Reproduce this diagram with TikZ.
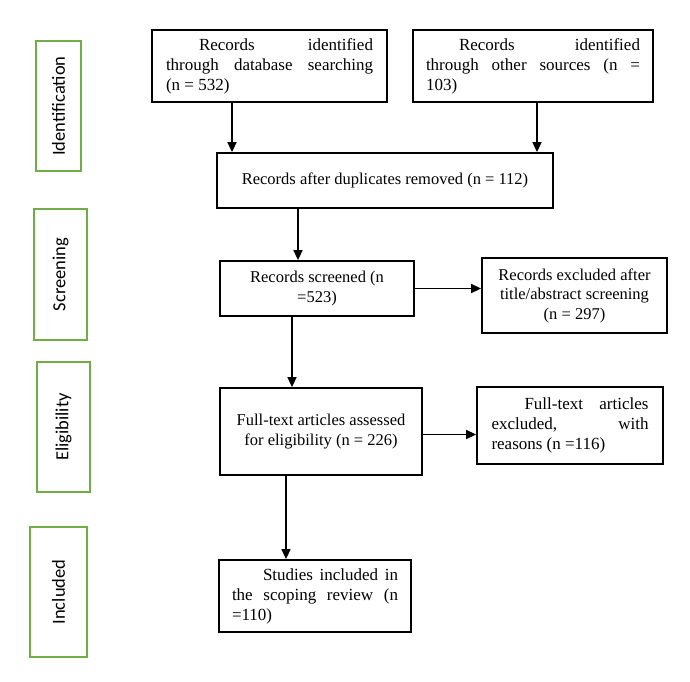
\documentclass[tikz,border=0pt]{standalone}
\usepackage{fontspec}
\setmainfont{Liberation Serif}
\newfontfamily\labfont{Carlito}
\usetikzlibrary{arrows.meta,calc}
\definecolor{phasegreen}{RGB}{112,173,71}
\begin{document}
\begin{tikzpicture}[x=1pt,y=-1pt,
  box/.style={draw=black, line width=1.8pt, align=center, inner sep=0pt,
    font=\fontsize{16.5}{19.5}\selectfont},
  jbox/.style={box, align=justify, font=\fontsize{17}{20}\selectfont},
  phase/.style={draw=phasegreen, line width=2pt, inner sep=0pt, rotate=90,
    font=\labfont\fontsize{18.5}{20}\selectfont},
  arr/.style={-{Triangle[length=10pt,width=9pt]}, line width=1.6pt}]
\useasboundingbox[fill=white] (0,0) rectangle (690,681);

% phase labels
\node[phase, minimum width=130pt, minimum height=45pt] (p1) at (58.5,106) {Identification};
\node[phase, minimum width=131pt, minimum height=53pt] (p2) at (60.5,274.5) {Screening};
\node[phase, minimum width=130pt, minimum height=53pt] (p3) at (63.5,427) {Eligibility};
\node[phase, minimum width=130pt, minimum height=57pt] (p4) at (58.5,592) {Included};

% main boxes
\node[jbox, text width=207pt, inner xsep=14pt, minimum width=235pt, minimum height=72pt] (b1) at (269.5,66)
  {\hspace*{33pt}Records identified\linebreak through database searching\linebreak (n = 532)};
\node[jbox, text width=214pt, inner xsep=13pt, minimum width=240pt, minimum height=72pt] (b2) at (533,66)
  {\hspace*{33pt}Records identified\linebreak through other sources (n =\linebreak 103)};
\node[box, minimum width=336pt, minimum height=55pt] (b3) at (385,180.5)
  {Records after duplicates removed (n = 112)};
\node[box, minimum width=194pt, minimum height=55pt] (b4) at (317,288.5)
  {Records screened (n\\=523)};
\node[box, minimum width=185pt, minimum height=75pt] (b5) at (574.5,295.5)
  {Records excluded after\\title/abstract screening\\(n = 297)};
\node[box, minimum width=202pt, minimum height=87pt] (b6) at (321,431.5)
  {Full-text articles assessed\\for eligibility (n = 226)};
\node[jbox, text width=157pt, inner xsep=14.5pt, minimum width=186pt, minimum height=77pt] (b7) at (570,425.5)
  {\hspace*{33pt}Full-text articles\linebreak excluded, with\linebreak reasons (n =116)};
\node[jbox, text width=166pt, inner xsep=13pt, minimum width=192pt, minimum height=72pt] (b8) at (315,596)
  {\hspace*{31pt}Studies included in\linebreak the scoping review (n\linebreak =110)};

% connectors
\draw[arr] ([xshift=-37.5pt]b1.south) -- ([xshift=-37.5pt]b1.south |- b3.north);
\draw[arr] ([xshift=4pt]b2.south) -- ([xshift=4pt]b2.south |- b3.north);
\draw[arr] ([xshift=-19pt]b4.north |- b3.south) -- ([xshift=-19pt]b4.north);
\draw[arr] (b4.east) -- (b4.east -| b5.west);
\draw[arr] ([xshift=-25pt]b4.south) -- ([xshift=-25pt]b4.south |- b6.north);
\draw[arr] ([yshift=-3pt]b6.east) -- ([yshift=-3pt]b6.east -| b7.west);
\draw[arr] ([xshift=-35pt]b6.south) -- ([xshift=-35pt]b6.south |- b8.north);
\end{tikzpicture}
\end{document}
